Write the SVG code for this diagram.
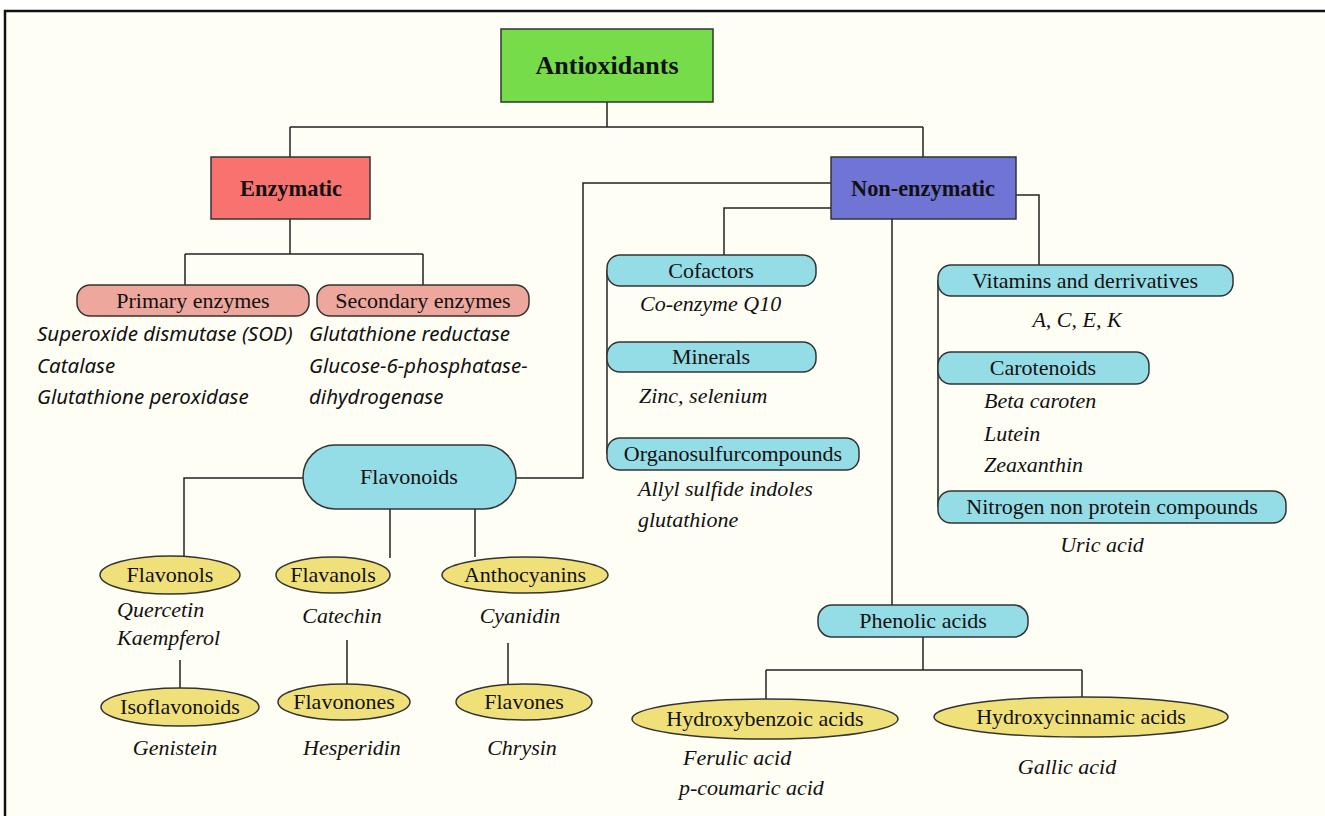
<svg xmlns="http://www.w3.org/2000/svg" width="1325" height="816" viewBox="0 0 1325 816">
<defs>
<style>
.frame{fill:#fefef5;stroke:#111;stroke-width:2.5}
.box{stroke:#333;stroke-width:1.5}
.lbl{font-family:"Liberation Serif",serif;font-size:22px;fill:#111;text-anchor:middle}
.bold{font-weight:bold;font-size:24px}
.it{font-family:"Liberation Serif",serif;font-style:italic;font-size:22px;fill:#111}
.its{font-family:"Noto Sans","Liberation Sans",sans-serif;font-style:italic;font-size:20.5px;fill:#111}
.c{text-anchor:middle}
.blue{fill:#95dde6}
.pink{fill:#eda79c}
.yel{fill:#f0e07a}
.conn{fill:none;stroke:#222;stroke-width:1.5}
</style>
</defs>
<rect x="0" y="0" width="1325" height="816" fill="#ffffff"/>
<rect class="frame" x="5" y="11" width="1330" height="820"/>

<g id="connectors">
<path class="conn" d="M607,102 V127 M290,127 H923 M290,127 V157 M923,127 V157"/>
<path class="conn" d="M290,219 V254 M185,254 H423 M185,254 V285 M423,254 V285"/>
<path class="conn" d="M831,183 H583 V478 H516"/>
<path class="conn" d="M831,208 H724 V255"/>
<path class="conn" d="M607,270 V454"/>
<path class="conn" d="M892,219 V605"/>
<path class="conn" d="M1016,195 H1039 V265"/>
<path class="conn" d="M938,280 V507"/>
<path class="conn" d="M303,478 H184 V556"/>
<path class="conn" d="M390,509 V558 M475,509 V557"/>
<path class="conn" d="M180,660 V688 M347,640 V684 M508,643 V684"/>
<path class="conn" d="M923,637 V670 M766,670 H1082 M766,670 V700 M1082,670 V698"/>
</g>

<g id="antioxidants">
<rect class="box" x="501" y="29" width="212" height="73" fill="#77dc4a"/>
<text class="lbl bold" x="607" y="74" style="font-size:26px" textLength="143" lengthAdjust="spacingAndGlyphs">Antioxidants</text>
</g>
<g id="enzymatic">
<rect class="box" x="211" y="157" width="159" height="62" fill="#f87370"/>
<text class="lbl bold" x="291" y="196" textLength="102" lengthAdjust="spacingAndGlyphs">Enzymatic</text>
</g>
<g id="nonenzymatic">
<rect class="box" x="831" y="157" width="185" height="62" fill="#7074d5"/>
<text class="lbl bold" x="923" y="196" textLength="144" lengthAdjust="spacingAndGlyphs">Non-enzymatic</text>
</g>

<g id="primary">
<rect class="box pink" x="77" y="285" width="232" height="31" rx="13"/>
<text class="lbl" x="193" y="308">Primary enzymes</text>
<text class="its" x="37" y="341">Superoxide dismutase (SOD)</text>
<text class="its" x="37" y="373">Catalase</text>
<text class="its" x="37" y="404">Glutathione peroxidase</text>
</g>
<g id="secondary">
<rect class="box pink" x="317" y="285" width="212" height="31" rx="13"/>
<text class="lbl" x="423" y="308">Secondary enzymes</text>
<text class="its" x="309" y="341">Glutathione reductase</text>
<text class="its" x="309" y="373">Glucose-6-phosphatase-</text>
<text class="its" x="309" y="404">dihydrogenase</text>
</g>

<g id="cofactors">
<rect class="box blue" x="607" y="255" width="209" height="31" rx="13"/>
<text class="lbl" x="711" y="278">Cofactors</text>
<text class="it" x="640" y="311">Co-enzyme Q10</text>
</g>
<g id="minerals">
<rect class="box blue" x="607" y="342" width="209" height="30" rx="13"/>
<text class="lbl" x="711" y="364">Minerals</text>
<text class="it" x="639" y="403">Zinc, selenium</text>
</g>
<g id="organosulfur">
<rect class="box blue" x="607" y="438" width="252" height="32" rx="13"/>
<text class="lbl" x="733" y="461">Organosulfurcompounds</text>
<text class="it" x="638" y="496">Allyl sulfide indoles</text>
<text class="it" x="638" y="527">glutathione</text>
</g>

<g id="vitamins">
<rect class="box blue" x="938" y="265" width="295" height="31" rx="13"/>
<text class="lbl" x="1085" y="288">Vitamins and derrivatives</text>
<text class="it c" x="1077" y="327">A, C, E, K</text>
</g>
<g id="carotenoids">
<rect class="box blue" x="938" y="352" width="211" height="32" rx="13"/>
<text class="lbl" x="1043" y="375">Carotenoids</text>
<text class="it" x="984" y="408">Beta caroten</text>
<text class="it" x="984" y="441">Lutein</text>
<text class="it" x="984" y="472">Zeaxanthin</text>
</g>
<g id="nitrogen">
<rect class="box blue" x="938" y="491" width="348" height="32" rx="13"/>
<text class="lbl" x="1112" y="514">Nitrogen non protein compounds</text>
<text class="it c" x="1102" y="552">Uric acid</text>
</g>

<g id="flavonoids">
<rect class="box blue" x="303" y="445" width="213" height="64" rx="32"/>
<text class="lbl" x="409" y="484">Flavonoids</text>
</g>
<g id="flavonols">
<ellipse class="box yel" cx="170" cy="575" rx="70" ry="19"/>
<text class="lbl" x="170" y="582">Flavonols</text>
<text class="it" x="117" y="617">Quercetin</text>
<text class="it" x="117" y="645">Kaempferol</text>
</g>
<g id="flavanols">
<ellipse class="box yel" cx="333" cy="575" rx="57" ry="18"/>
<text class="lbl" x="333" y="582">Flavanols</text>
<text class="it c" x="342" y="623">Catechin</text>
</g>
<g id="anthocyanins">
<ellipse class="box yel" cx="525" cy="575" rx="83" ry="18"/>
<text class="lbl" x="525" y="582">Anthocyanins</text>
<text class="it c" x="520" y="623">Cyanidin</text>
</g>
<g id="isoflavonoids">
<ellipse class="box yel" cx="180" cy="707" rx="79" ry="19"/>
<text class="lbl" x="180" y="714">Isoflavonoids</text>
<text class="it c" x="175" y="755">Genistein</text>
</g>
<g id="flavonones">
<ellipse class="box yel" cx="344" cy="702" rx="66" ry="18"/>
<text class="lbl" x="344" y="709">Flavonones</text>
<text class="it c" x="352" y="755">Hesperidin</text>
</g>
<g id="flavones">
<ellipse class="box yel" cx="524" cy="702" rx="68" ry="18"/>
<text class="lbl" x="524" y="709">Flavones</text>
<text class="it c" x="522" y="755">Chrysin</text>
</g>

<g id="phenolic">
<rect class="box blue" x="818" y="605" width="210" height="32" rx="14"/>
<text class="lbl" x="923" y="628">Phenolic acids</text>
</g>
<g id="hydroxybenzoic">
<ellipse class="box yel" cx="765" cy="719" rx="133" ry="20"/>
<text class="lbl" x="765" y="726">Hydroxybenzoic acids</text>
<text class="it" x="683" y="765">Ferulic acid</text>
<text class="it" x="679" y="795">p-coumaric acid</text>
</g>
<g id="hydroxycinnamic">
<ellipse class="box yel" cx="1081" cy="717" rx="147" ry="20"/>
<text class="lbl" x="1081" y="724">Hydroxycinnamic acids</text>
<text class="it c" x="1067" y="774">Gallic acid</text>
</g>
</svg>
